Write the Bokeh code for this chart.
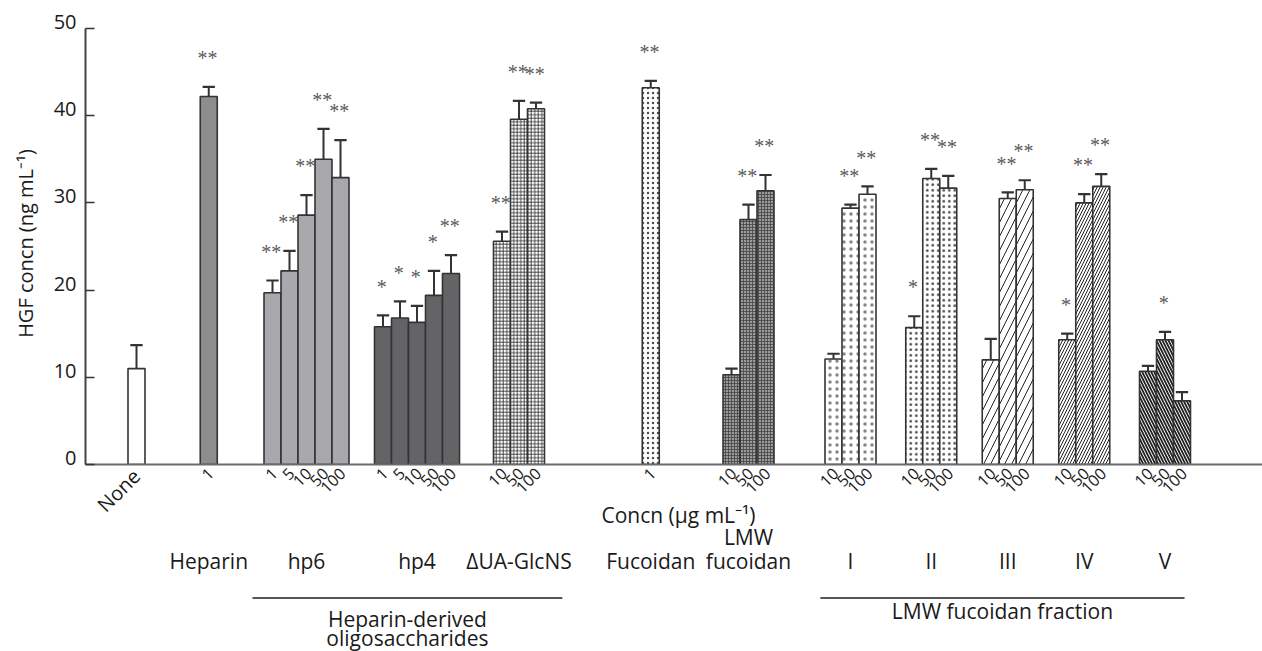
import math
from bokeh.plotting import figure
from bokeh.models import Range1d, FixedTicker
from bokeh.core.properties import value
from bokeh.embed import file_html
from bokeh.resources import INLINE

# ------------------------------------------------------------------ data
groups = ["None", "Heparin", "hp6", "hp4", "\u0394UA-GlcNS", "Fucoidan",
          "LMW fucoidan", "I", "II", "III", "IV", "V"]
group_title_lines = [[], ["Heparin"], ["hp6"], ["hp4"], ["\u0394UA-GlcNS"], ["Fucoidan"],
                     ["LMW", "fucoidan"], ["I"], ["II"], ["III"], ["IV"], ["V"]]
conc_labels = [["None"], ["1"], ["1", "5", "10", "50", "100"], ["1", "5", "10", "50", "100"],
               ["10", "50", "100"], ["1"], ["10", "50", "100"], ["10", "50", "100"],
               ["10", "50", "100"], ["10", "50", "100"], ["10", "50", "100"], ["10", "50", "100"]]
hgf_mean = [[11.0], [42.2], [19.7, 22.2, 28.6, 35.0, 32.9], [15.8, 16.8, 16.3, 19.4, 21.9],
            [25.6, 39.6, 40.8], [43.2], [10.3, 28.1, 31.4], [12.1, 29.4, 31.0],
            [15.7, 32.8, 31.7], [12.0, 30.5, 31.5], [14.3, 30.0, 31.9], [10.7, 14.3, 7.3]]
hgf_err = [[2.7], [1.1], [1.4, 2.3, 2.3, 3.5, 4.3], [1.3, 1.9, 1.9, 2.8, 2.1],
           [1.1, 2.1, 0.7], [0.8], [0.7, 1.7, 1.8], [0.6, 0.4, 0.9],
           [1.3, 1.1, 1.4], [2.4, 0.7, 1.1], [0.7, 1.0, 1.4], [0.6, 0.9, 1.0]]
significance = [[""], ["**"], ["**", "**", "**", "**", "**"], ["*", "*", "*", "*", "**"],
                ["**", "**", "**"], ["**"], ["", "**", "**"], ["", "**", "**"],
                ["*", "**", "**"], ["", "**", "**"], ["*", "**", "**"], ["", "*", ""]]
y_ticks = [0, 10, 20, 30, 40, 50]
y_label = "HGF concn (ng mL\u207b\u00b9)"
x_label = "Concn (\u03bcg mL\u207b\u00b9)"
brackets = [("Heparin-derived\noligosaccharides", "hp6", "\u0394UA-GlcNS"),
            ("LMW fucoidan fraction", "I", "V")]

# ------------------------------------------------------------------ layout / style
W, H = 1262, 651
FRAME_L, FRAME_R, FRAME_T, FRAME_B = 85, 1262, 28, 464
PXU_X = 4.25                      # px per x unit
BAR_W = 4                         # bar width in x units
group_start = [10, 27, 42, 68, 96, 131, 150, 174, 193, 211, 229, 248]
bracket_pad = [(-2.7, 4.2), (-1.1, -1.4)]
bracket_text_mid = [[618, 637], [610]]
PXU_Y = (FRAME_B - FRAME_T) / (y_ticks[-1] - y_ticks[0])

def xd(px):
    return (px - FRAME_L) / PXU_X

def yd(px):
    return (FRAME_B - px) / PXU_Y

EDGE = "#333333"
styles = [
    dict(fill_color="white"),
    dict(fill_color="#8d8d90"),
    dict(fill_color="#a9a9ad"),
    dict(fill_color="#646467"),
    dict(fill_color="white", hatch_pattern="cross", hatch_scale=3.5, hatch_color="#222222", hatch_weight=0.8),
    dict(fill_color="white", hatch_pattern="dot", hatch_scale=5, hatch_color="#222222", hatch_alpha=0.8),
    dict(fill_color="#9a9a9a", hatch_pattern="cross", hatch_scale=3, hatch_color="#444444", hatch_weight=0.8),
    dict(fill_color="white", hatch_pattern="dot", hatch_scale=7, hatch_color="#222222", hatch_alpha=0.55),
    dict(fill_color="white", hatch_pattern="dot", hatch_scale=5.5, hatch_color="#222222", hatch_alpha=0.8),
    dict(fill_color="white", hatch_pattern="right_diagonal_line", hatch_scale=14, hatch_color="#222222", hatch_weight=1.0),
    dict(fill_color="white", hatch_pattern="right_diagonal_line", hatch_scale=6, hatch_color="#222222", hatch_weight=1.0),
    dict(fill_color="white", hatch_pattern="left_diagonal_line", hatch_scale=6, hatch_color="#222222", hatch_weight=1.8),
]
FONT = value("Open Sans")
STAR_FONT = value("Liberation Serif")
TXT = "#1a1a1a"
LBL = "21px"

p = figure(width=W, height=H, output_backend="svg", toolbar_location=None,
           x_range=Range1d(0, (FRAME_R - FRAME_L) / PXU_X),
           y_range=Range1d(y_ticks[0], y_ticks[-1]),
           min_border_left=FRAME_L, min_border_right=W - FRAME_R,
           min_border_top=FRAME_T, min_border_bottom=H - FRAME_B)
p.outline_line_color = None
p.xgrid.visible = False
p.ygrid.visible = False
p.background_fill_color = "white"
p.border_fill_color = "white"

p.xaxis.ticker = FixedTicker(ticks=[])
p.xaxis.major_label_text_color = None
p.xaxis.major_tick_line_color = None
p.xaxis.minor_tick_line_color = None
p.xaxis.axis_line_color = "#6b6b6b"
p.xaxis.axis_line_width = 2

p.yaxis.ticker = FixedTicker(ticks=y_ticks)
p.yaxis.major_label_text_color = None
p.yaxis.major_tick_in = 9
p.yaxis.major_tick_out = 0
p.yaxis.major_tick_line_color = EDGE
p.yaxis.major_tick_line_width = 1.5
p.yaxis.minor_tick_line_color = None
p.yaxis.axis_line_color = "#444444"
p.yaxis.axis_line_width = 2

# ------------------------------------------------------------------ bars, error bars, stars
group_span = {}
for gi, g in enumerate(groups):
    n = len(hgf_mean[gi])
    xs = [group_start[gi] + BAR_W * (k + 0.5) for k in range(n)]
    group_span[g] = (group_start[gi], group_start[gi] + BAR_W * n)
    tops = hgf_mean[gi]
    ends = [t + e for t, e in zip(tops, hgf_err[gi])]
    p.segment(x0=xs, y0=tops, x1=xs, y1=ends, line_color=EDGE, line_width=2)
    p.segment(x0=[x - 1.45 for x in xs], y0=ends, x1=[x + 1.45 for x in xs], y1=ends,
              line_color=EDGE, line_width=2.2)
    p.vbar(x=xs, top=tops, bottom=0, width=BAR_W, line_color=EDGE, line_width=1.6, **styles[gi])
    sx = [x - 0.3 for x, s in zip(xs, significance[gi]) if s]
    sy = [e + 3.3 for e, s in zip(ends, significance[gi]) if s]
    st = [s for s in significance[gi] if s]
    if st:
        p.text(x=sx, y=sy, text=st, text_align="center", text_baseline="middle",
               text_font=STAR_FONT, text_font_size="20px", text_color="#5a5a5a")
    # rotated concentration labels
    big = conc_labels[gi][0] == "None"
    lx = [x + (0 if big else 2) / PXU_X for x in xs]
    ly = [yd(472 if big else 470)] * n
    p.text(x=lx, y=ly, text=conc_labels[gi], angle=math.pi / 4, text_align="right",
           text_baseline="middle", text_font=FONT,
           text_font_size="20px" if big else "16px", text_color=TXT, level="overlay")
    # group titles
    cx = group_start[gi] + BAR_W * n / 2
    lines = group_title_lines[gi]
    for li, line in enumerate(lines):
        mid = 560 - 24 * (len(lines) - 1 - li)
        p.text(x=[cx], y=[yd(mid)], text=[line], text_align="center", text_baseline="middle",
               text_font=FONT, text_font_size=LBL, text_color=TXT, level="overlay")

# y tick labels and axis titles
p.text(x=[xd(76)] * len(y_ticks), y=[t + 6.5 / PXU_Y for t in y_ticks], text=[str(t) for t in y_ticks],
       text_align="right", text_baseline="middle", text_font=FONT, text_font_size="20px",
       text_color=TXT, level="overlay")
p.text(x=[xd(24.5)], y=[yd(243)], text=[y_label], angle=math.pi / 2, text_align="center",
       text_baseline="middle", text_font=FONT, text_font_size="20px", text_color=TXT, level="overlay")
p.text(x=[xd(678)], y=[yd(514)], text=[x_label], text_align="center",
       text_baseline="middle", text_font=FONT, text_font_size=LBL, text_color=TXT, level="overlay")

# brackets
for bi, (label, g0, g1) in enumerate(brackets):
    x0 = group_span[g0][0] + bracket_pad[bi][0]
    x1 = group_span[g1][1] + bracket_pad[bi][1]
    p.segment(x0=[x0], y0=[yd(597.5)], x1=[x1], y1=[yd(597.5)], line_color="#555555",
              line_width=2, level="overlay")
    for li, line in enumerate(label.split("\n")):
        p.text(x=[(x0 + x1) / 2], y=[yd(bracket_text_mid[bi][li])], text=[line], text_align="center",
               text_baseline="middle", text_font=FONT, text_font_size=LBL, text_color=TXT,
               level="overlay")

open("out.html", "w").write(file_html(p, INLINE))
